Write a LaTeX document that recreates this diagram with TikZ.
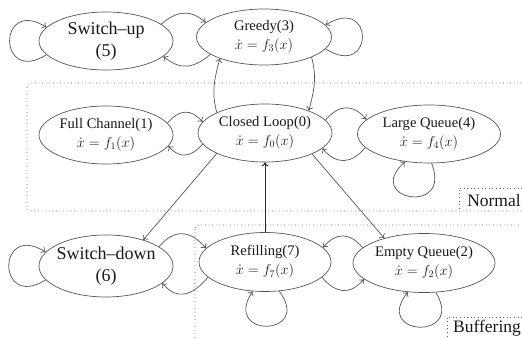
\documentclass[tikz,border=0pt]{standalone}
\usepackage[no-math]{fontspec}
\setmainfont{Liberation Serif}
\usetikzlibrary{shapes.geometric,arrows.meta}
\definecolor{linec}{HTML}{555555}
\definecolor{dotc}{HTML}{5E5E5E}
\begin{document}
\begin{tikzpicture}[x=1pt,y=1pt,
  state/.style={ellipse, draw=linec, line width=0.7pt, inner sep=0pt,
    minimum width=134pt, minimum height=58pt, align=center, text=black!90,
    font=\fontsize{14.6}{17}\selectfont},
  bigstate/.style={state, font=\fontsize{18}{20}\selectfont},
  conn/.style={draw=linec, line width=0.7pt, -{To[length=4pt,width=7pt]}},
  zone/.style={draw=dotc, line width=0.7pt, dash pattern=on 0.8pt off 2.8pt},
  zonelabel/.style={font=\fontsize{17.5}{20}\selectfont, inner sep=0pt, text=black!90}]
\clip (0,0) rectangle (522,-339);
\fill[white] (0,0) rectangle (522,-339);

% operating-mode zones
\draw[zone, rounded corners=4pt] (27,-83) rectangle (540,-211);
\draw[zone] (540,-188) -| (459,-211);
\node[zonelabel, anchor=base] (normaltag) at (494,-207) {Normal};
\draw[zone, rounded corners=4pt] (195,-225) rectangle (540,-360);
\draw[zone] (540,-317) -| (447,-345);
\node[zonelabel, anchor=base] (buftag) at (487,-332) {Buffering};

% states
\node[bigstate] (su) at (106,-41) {Switch–up\\[1.5pt](5)};
\node[state, minimum width=135pt, minimum height=56pt] (gr) at (264,-37) {Greedy(3)\\[2pt]$\dot{x}=f_3(x)$};
\node[state] (fc) at (106,-135) {Full Channel(1)\\[2pt]$\dot{x}=f_1(x)$};
\node[state] (cl) at (265,-133) {Closed Loop(0)\\[2pt]$\dot{x}=f_0(x)$};
\node[state, minimum width=143pt] (lq) at (429,-134) {Large Queue(4)\\[2pt]$\dot{x}=f_4(x)$};
\node[bigstate, minimum height=62pt, inner xsep=-15pt] (sd) at (106,-266) {Switch–down\\[1.5pt](6)};
\node[state, minimum width=132pt, minimum height=59pt] (rf) at (265,-262) {Refilling(7)\\[2pt]$\dot{x}=f_7(x)$};
\node[state, minimum width=142pt, minimum height=59pt] (eq) at (424,-263) {Empty Queue(2)\\[2pt]$\dot{x}=f_2(x)$};

% self loops
\draw[conn] (su.193) .. controls +(212:58) and +(148:58) .. (su.167);
\draw[conn] (gr.349) .. controls +(-32:58) and +(32:58) .. (gr.11);
\draw[conn] (lq.275) .. controls +(292:57) and +(222:57) .. (lq.229);
\draw[conn] (sd.193) .. controls +(212:58) and +(148:58) .. (sd.167);
\draw[conn] (rf.296) .. controls +(307:57) and +(237:57) .. (rf.247);
\draw[conn] (eq.292) .. controls +(301:57) and +(231:57) .. (eq.241);

% transitions between neighbouring states
\draw[conn] (su.17) to[out=40,in=140,looseness=1.2] (gr.166);
\draw[conn] (gr.198) to[out=220,in=320,looseness=1.2] (su.345);
\draw[conn] (cl.157) to[out=105,in=255] (gr.206);
\draw[conn] (gr.337) to[out=-75,in=75] (cl.27);
\draw[conn] (fc.11) to[out=50,in=130,looseness=1.3] (cl.170);
\draw[conn] (cl.190) to[out=230,in=310,looseness=1.3] (fc.350);
\draw[conn] (cl.12) to[out=50,in=130,looseness=1.3] (lq.167);
\draw[conn] (lq.192) to[out=230,in=310,looseness=1.3] (cl.345);
\draw[conn] (sd.20) to[out=50,in=130,looseness=1.3] (rf.167);
\draw[conn] (rf.195) to[out=230,in=310,looseness=1.3] (sd.343);
\draw[conn] (eq.166) to[out=130,in=50,looseness=1.3] (rf.14);
\draw[conn] (rf.345) to[out=310,in=230,looseness=1.3] (eq.195);

% transitions out of and into the closed loop
\draw[conn] (cl.203) -- (sd.35);
\draw[conn, line width=1pt, draw=black!85] (rf) -- (cl);
\draw[conn] (cl.336) -- (eq.148);
\end{tikzpicture}
\end{document}
